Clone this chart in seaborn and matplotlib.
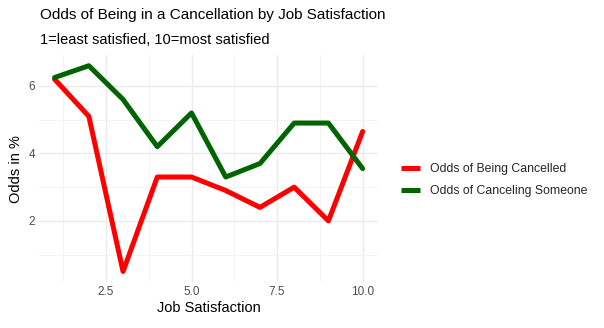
import matplotlib
matplotlib.use("Agg")
import matplotlib.pyplot as plt
from matplotlib.ticker import MultipleLocator, FuncFormatter
import seaborn as sns
import pandas as pd

# Job satisfaction levels and the odds (in %) for each series
satisfaction = [1, 2, 3, 4, 5, 6, 7, 8, 9, 10]
odds_cancelled = [6.2, 5.1, 0.5, 3.3, 3.3, 2.9, 2.4, 3.0, 2.0, 4.65]
odds_canceling = [6.25, 6.6, 5.6, 4.2, 5.2, 3.3, 3.7, 4.9, 4.9, 3.55]
series_names = ["Odds of Being Cancelled", "Odds of Canceling Someone"]
series_colors = ["#FF0000", "#006400"]

df = pd.DataFrame({
    "Job Satisfaction": satisfaction * 2,
    "Odds": odds_cancelled + odds_canceling,
    "Series": [series_names[0]] * len(satisfaction) + [series_names[1]] * len(satisfaction),
})

sns.set_theme(style="white")
plt.rcParams["font.family"] = ["Liberation Sans", "DejaVu Sans"]

fig = plt.figure(figsize=(6.04, 3.28), dpi=100)
ax = fig.add_axes([0.0649, 0.141, 0.561, 0.690])

sns.lineplot(data=df, x="Job Satisfaction", y="Odds", hue="Series",
             hue_order=series_names, palette=series_colors,
             linewidth=3.6, ax=ax, legend=True)

ax.set_xlim(0.55, 10.45)
ax.set_ylim(0.195, 6.905)
ax.xaxis.set_major_locator(MultipleLocator(2.5))
ax.xaxis.set_minor_locator(MultipleLocator(1.25))
ax.yaxis.set_major_locator(MultipleLocator(2))
ax.yaxis.set_minor_locator(MultipleLocator(1))
ax.grid(which="major", color="#EBEBEB", linewidth=1.0)
ax.grid(which="minor", color="#F3F3F3", linewidth=0.6)
ax.set_axisbelow(True)
for s in ax.spines.values():
    s.set_visible(False)
ax.tick_params(which="both", length=0, labelsize=8.5, labelcolor="#4D4D4D", pad=3)
ax.xaxis.set_major_formatter(FuncFormatter(lambda v, p: f"{v:.1f}"))
ax.yaxis.set_major_formatter(FuncFormatter(lambda v, p: f"{v:.0f}"))

ax.set_xlabel("Job Satisfaction", fontsize=10.5, color="black", labelpad=2)
ax.set_ylabel("Odds in %", fontsize=10.5, color="black", labelpad=4)

leg = ax.legend(loc="center left", bbox_to_anchor=(0.645, 0.451),
                bbox_transform=fig.transFigure, frameon=False,
                fontsize=8.8, handlelength=1.55, handletextpad=0.82,
                labelspacing=0.78, title=None)
for line in leg.get_lines():
    line.set_linewidth(3.6)
    line.set_solid_capstyle("butt")

fig.text(0.0663, 0.955, "Odds of Being in a Cancellation by Job Satisfaction",
         fontsize=11, color="black", ha="left", va="center")
fig.text(0.0663, 0.878, "1=least satisfied, 10=most satisfied",
         fontsize=10.5, color="black", ha="left", va="center")

fig.savefig("out.png", dpi=100, facecolor="white")
